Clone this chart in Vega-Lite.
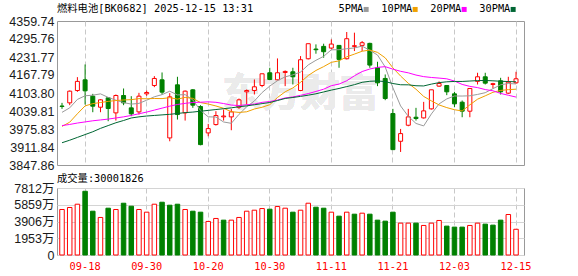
{
  "$schema": "https://vega.github.io/schema/vega-lite/v6.json",
  "background": "white",
  "padding": {"left": 6, "top": 3, "right": 0, "bottom": 0},
  "spacing": 1,
  "datasets": {
    "k": [
      {"d":"09-15","o":4057.5,"h":4068.8,"l":4047.4,"c":4056.0,"dir":"down","v":5306,"vd":"up","5PMA":4035,"10PMA":3985,"20PMA":3988,"30PMA":3927},
      {"d":"09-16","o":4068.8,"h":4112.7,"l":4060.5,"c":4110.3,"dir":"up","v":5538,"vd":"up","5PMA":4051,"10PMA":4000,"20PMA":3992,"30PMA":3936},
      {"d":"09-17","o":4112.7,"h":4160.2,"l":4108.0,"c":4145.1,"dir":"up","v":5921,"vd":"up","5PMA":4081,"10PMA":4030,"20PMA":3997,"30PMA":3946},
      {"d":"09-18","o":4150.7,"h":4205.3,"l":4062.8,"c":4111.5,"dir":"down","v":7430,"vd":"down","5PMA":4094,"10PMA":4058,"20PMA":4001,"30PMA":3956},
      {"d":"09-19","o":4092.5,"h":4100.8,"l":4035.5,"c":4056.9,"dir":"down","v":5108,"vd":"down","5PMA":4096.0,"10PMA":4066,"20PMA":4005,"30PMA":3966},
      {"d":"09-22","o":4053.3,"h":4081.8,"l":4035.5,"c":4079.5,"dir":"up","v":4377,"vd":"up","5PMA":4100.7,"10PMA":4070,"20PMA":4008,"30PMA":3978},
      {"d":"09-23","o":4086.6,"h":4089.0,"l":4003.5,"c":4048.6,"dir":"down","v":5457,"vd":"down","5PMA":4088.3,"10PMA":4074,"20PMA":4011,"30PMA":3988},
      {"d":"09-24","o":4033.1,"h":4098.5,"l":4005.8,"c":4094.9,"dir":"up","v":5306,"vd":"up","5PMA":4078.3,"10PMA":4077,"20PMA":4015,"30PMA":3998},
      {"d":"09-25","o":4094.9,"h":4119.8,"l":4060.5,"c":4068.8,"dir":"down","v":6037,"vd":"down","5PMA":4069.7,"10PMA":4079,"20PMA":4019,"30PMA":4006},
      {"d":"09-26","o":4051.0,"h":4092.5,"l":4021.3,"c":4029.6,"dir":"down","v":5689,"vd":"down","5PMA":4064.3,"10PMA":4080.1,"20PMA":4024,"30PMA":4015},
      {"d":"09-29","o":4036.7,"h":4104.4,"l":4027.2,"c":4092.5,"dir":"up","v":5306,"vd":"up","5PMA":4066.9,"10PMA":4083.8,"20PMA":4030,"30PMA":4019},
      {"d":"09-30","o":4100.8,"h":4112.7,"l":4093.7,"c":4105.6,"dir":"up","v":4992,"vd":"up","5PMA":4078.3,"10PMA":4083.3,"20PMA":4036,"30PMA":4022},
      {"d":"10-09","o":4130.5,"h":4163.8,"l":4124.6,"c":4155.5,"dir":"up","v":5921,"vd":"up","5PMA":4090.4,"10PMA":4084.3,"20PMA":4043,"30PMA":4024},
      {"d":"10-10","o":4150.7,"h":4176.8,"l":4098.5,"c":4106.8,"dir":"down","v":6153,"vd":"down","5PMA":4098.0,"10PMA":4083.9,"20PMA":4050,"30PMA":4026},
      {"d":"10-13","o":3944.1,"h":4103.2,"l":3932.2,"c":4090.1,"dir":"up","v":5805,"vd":"down","5PMA":4110.1,"10PMA":4087.2,"20PMA":4057,"30PMA":4028},
      {"d":"10-14","o":4132.9,"h":4161.4,"l":4009.4,"c":4027.2,"dir":"down","v":5921,"vd":"down","5PMA":4097.0,"10PMA":4082.0,"20PMA":4063,"30PMA":4031},
      {"d":"10-15","o":4033.1,"h":4112.7,"l":4005.8,"c":4110.3,"dir":"up","v":5306,"vd":"up","5PMA":4098.0,"10PMA":4088.1,"20PMA":4067,"30PMA":4034},
      {"d":"10-16","o":4115.1,"h":4117.5,"l":4051.0,"c":4060.5,"dir":"down","v":5108,"vd":"down","5PMA":4079.0,"10PMA":4084.7,"20PMA":4070,"30PMA":4036},
      {"d":"10-17","o":4055.7,"h":4060.5,"l":3917.9,"c":3920.3,"dir":"down","v":4992,"vd":"down","5PMA":4041.7,"10PMA":4069.8,"20PMA":4071,"30PMA":4039},
      {"d":"10-20","o":3961.9,"h":3993.9,"l":3950.0,"c":3977.3,"dir":"up","v":3912,"vd":"up","5PMA":4019.1,"10PMA":4064.6,"20PMA":4072.4,"30PMA":4042},
      {"d":"10-21","o":3991.6,"h":4039.1,"l":3988.0,"c":4023.6,"dir":"up","v":4261,"vd":"up","5PMA":4018.4,"10PMA":4057.7,"20PMA":4070.7,"30PMA":4045},
      {"d":"10-22","o":4019.0,"h":4045.0,"l":4005.8,"c":4022.0,"dir":"up","v":4064,"vd":"down","5PMA":4000.8,"10PMA":4049.4,"20PMA":4066.3,"30PMA":4048},
      {"d":"10-23","o":4018.9,"h":4047.4,"l":3971.4,"c":4036.7,"dir":"up","v":4064,"vd":"up","5PMA":3996.0,"10PMA":4037.5,"20PMA":4060.9,"30PMA":4051},
      {"d":"10-24","o":4053.3,"h":4084.2,"l":4047.4,"c":4079.5,"dir":"up","v":4377,"vd":"up","5PMA":4027.9,"10PMA":4034.8,"20PMA":4059.3,"30PMA":4055},
      {"d":"10-27","o":4108.0,"h":4116.3,"l":4062.8,"c":4112.7,"dir":"up","v":5108,"vd":"up","5PMA":4054.9,"10PMA":4037.0,"20PMA":4062.1,"30PMA":4058},
      {"d":"10-28","o":4112.7,"h":4151.9,"l":4098.5,"c":4125.8,"dir":"up","v":5224,"vd":"up","5PMA":4075.4,"10PMA":4046.9,"20PMA":4064.4,"30PMA":4062},
      {"d":"10-29","o":4130.5,"h":4172.1,"l":4124.6,"c":4172.1,"dir":"up","v":5418,"vd":"up","5PMA":4105.4,"10PMA":4053.1,"20PMA":4070.6,"30PMA":4066},
      {"d":"10-30","o":4175.7,"h":4193.5,"l":4149.5,"c":4151.9,"dir":"down","v":5340,"vd":"down","5PMA":4128.4,"10PMA":4062.2,"20PMA":4073.4,"30PMA":4070},
      {"d":"10-31","o":4150.7,"h":4226.7,"l":4148.3,"c":4175.7,"dir":"up","v":5650,"vd":"up","5PMA":4147.6,"10PMA":4087.8,"20PMA":4078.7,"30PMA":4077},
      {"d":"11-03","o":4176.8,"h":4184.0,"l":4128.2,"c":4180.4,"dir":"up","v":5457,"vd":"up","5PMA":4161.2,"10PMA":4108.1,"20PMA":4086.3,"30PMA":4084.4},
      {"d":"11-04","o":4179.2,"h":4193.5,"l":4134.1,"c":4161.4,"dir":"down","v":4992,"vd":"down","5PMA":4168.3,"10PMA":4121.8,"20PMA":4089.7,"30PMA":4087.9},
      {"d":"11-05","o":4112.7,"h":4235.0,"l":4110.3,"c":4222.0,"dir":"up","v":5224,"vd":"up","5PMA":4178.3,"10PMA":4141.8,"20PMA":4095.6,"30PMA":4091.7},
      {"d":"11-06","o":4225.5,"h":4279.0,"l":4223.2,"c":4279.0,"dir":"up","v":6037,"vd":"up","5PMA":4203.7,"10PMA":4166.1,"20PMA":4101.7,"30PMA":4096.1},
      {"d":"11-07","o":4260.0,"h":4276.6,"l":4243.4,"c":4257.6,"dir":"down","v":5573,"vd":"down","5PMA":4220.1,"10PMA":4183.9,"20PMA":4109.3,"30PMA":4101.0},
      {"d":"11-10","o":4269.5,"h":4279.0,"l":4229.1,"c":4250.5,"dir":"down","v":5457,"vd":"down","5PMA":4234.1,"10PMA":4197.6,"20PMA":4117.3,"30PMA":4107.5},
      {"d":"11-11","o":4263.5,"h":4294.4,"l":4258.8,"c":4277.8,"dir":"up","v":4992,"vd":"up","5PMA":4257.4,"10PMA":4212.8,"20PMA":4129.8,"30PMA":4114.1},
      {"d":"11-12","o":4273.0,"h":4273.0,"l":4193.5,"c":4223.2,"dir":"down","v":4528,"vd":"down","5PMA":4257.6,"10PMA":4218.0,"20PMA":4135.5,"30PMA":4119.9},
      {"d":"11-13","o":4225.5,"h":4320.6,"l":4223.2,"c":4296.8,"dir":"up","v":4992,"vd":"up","5PMA":4261.2,"10PMA":4232.4,"20PMA":4147.3,"30PMA":4126.6},
      {"d":"11-14","o":4269.5,"h":4318.2,"l":4252.9,"c":4271.9,"dir":"up","v":4760,"vd":"down","5PMA":4264.0,"10PMA":4242.1,"20PMA":4164.9,"30PMA":4133.4},
      {"d":"11-17","o":4273.0,"h":4288.5,"l":4252.9,"c":4282.5,"dir":"up","v":4876,"vd":"up","5PMA":4270.4,"10PMA":4252.3,"20PMA":4180.1,"30PMA":4141.8},
      {"d":"11-18","o":4280.2,"h":4282.5,"l":4193.5,"c":4203.0,"dir":"down","v":4760,"vd":"down","5PMA":4255.5,"10PMA":4256.4,"20PMA":4189.1,"30PMA":4145.5},
      {"d":"11-19","o":4193.5,"h":4214.8,"l":4128.2,"c":4140.0,"dir":"down","v":4064,"vd":"down","5PMA":4238.8,"10PMA":4248.2,"20PMA":4195.0,"30PMA":4146.6},
      {"d":"11-20","o":4155.5,"h":4169.7,"l":4078.3,"c":4084.2,"dir":"down","v":3948,"vd":"down","5PMA":4196.3,"10PMA":4228.8,"20PMA":4197.4,"30PMA":4144.3},
      {"d":"11-21","o":4030.8,"h":4047.4,"l":3902.5,"c":3902.5,"dir":"down","v":4992,"vd":"down","5PMA":4122.4,"10PMA":4193.2,"20PMA":4188.6,"30PMA":4137.5},
      {"d":"11-24","o":3932.2,"h":3976.1,"l":3894.2,"c":3959.5,"dir":"up","v":3715,"vd":"up","5PMA":4057.8,"10PMA":4164.1,"20PMA":4180.9,"30PMA":4133.1},
      {"d":"11-25","o":3989.2,"h":4047.4,"l":3985.6,"c":4018.9,"dir":"up","v":3715,"vd":"up","5PMA":4021.0,"10PMA":4138.3,"20PMA":4175.5,"30PMA":4132.8},
      {"d":"11-26","o":4017.7,"h":4051.0,"l":4005.8,"c":4013.0,"dir":"down","v":3715,"vd":"down","5PMA":3995.6,"10PMA":4117.2,"20PMA":4167.6,"30PMA":4129.6},
      {"d":"11-27","o":4015.3,"h":4072.3,"l":4013.0,"c":4040.3,"dir":"up","v":3444,"vd":"up","5PMA":3986.8,"10PMA":4091.6,"20PMA":4162.0,"30PMA":4128.9},
      {"d":"11-28","o":4047.4,"h":4115.1,"l":4045.0,"c":4115.1,"dir":"up","v":3715,"vd":"up","5PMA":4029.4,"10PMA":4075.9,"20PMA":4159.0,"30PMA":4135.4},
      {"d":"12-01","o":4128.2,"h":4145.1,"l":4125.8,"c":4137.6,"dir":"up","v":4025,"vd":"up","5PMA":4065.0,"10PMA":4061.4,"20PMA":4156.8,"30PMA":4140.7},
      {"d":"12-02","o":4130.5,"h":4131.7,"l":4096.1,"c":4108.0,"dir":"down","v":3367,"vd":"down","5PMA":4082.8,"10PMA":4051.9,"20PMA":4154.2,"30PMA":4143.6},
      {"d":"12-03","o":4100.8,"h":4108.0,"l":4053.3,"c":4065.2,"dir":"down","v":3251,"vd":"down","5PMA":4093.2,"10PMA":4044.4,"20PMA":4146.3,"30PMA":4144.8},
      {"d":"12-04","o":4071.1,"h":4077.1,"l":4017.7,"c":4039.1,"dir":"down","v":3251,"vd":"down","5PMA":4093.0,"10PMA":4039.9,"20PMA":4134.3,"30PMA":4144.9},
      {"d":"12-05","o":4039.1,"h":4119.8,"l":4017.7,"c":4119.8,"dir":"up","v":3444,"vd":"up","5PMA":4093.9,"10PMA":4061.7,"20PMA":4127.4,"30PMA":4146.3},
      {"d":"12-08","o":4145.1,"h":4175.7,"l":4134.1,"c":4161.4,"dir":"up","v":3715,"vd":"up","5PMA":4098.7,"10PMA":4081.8,"20PMA":4123.0,"30PMA":4147.9},
      {"d":"12-09","o":4161.4,"h":4175.7,"l":4134.1,"c":4138.8,"dir":"down","v":3599,"vd":"down","5PMA":4104.9,"10PMA":4093.8,"20PMA":4116.0,"30PMA":4148.3},
      {"d":"12-10","o":4134.1,"h":4140.0,"l":4119.8,"c":4137.0,"dir":"up","v":3483,"vd":"down","5PMA":4119.2,"10PMA":4106.2,"20PMA":4111.7,"30PMA":4147.1},
      {"d":"12-11","o":4147.2,"h":4157.8,"l":4098.5,"c":4108.0,"dir":"down","v":4064,"vd":"down","5PMA":4133.0,"10PMA":4113.0,"20PMA":4102.3,"30PMA":4145.6},
      {"d":"12-12","o":4103.2,"h":4161.4,"l":4100.8,"c":4142.4,"dir":"up","v":4721,"vd":"up","5PMA":4137.5,"10PMA":4115.7,"20PMA":4095.8,"30PMA":4144.5},
      {"d":"12-15","o":4140.0,"h":4179.2,"l":4136.5,"c":4154.3,"dir":"up","v":3000,"vd":"up","5PMA":4136.1,"10PMA":4117.4,"20PMA":4089.4,"30PMA":4143.7}
    ]
  },
  "vconcat": [
    {
      "width": 467,
      "height": 144,
      "title": {"text": "燃料电池[BK0682] 2025-12-15 13:31", "anchor": "start", "frame": "group", "baseline": "bottom", "offset": -9.3, "font": "DejaVu Sans Mono, Noto Sans CJK SC", "fontSize": 10.3, "fontWeight": "normal", "color": "#000000"},
      "data": {"name": "k"},
      "layer": [
        {
          "mark": {"type": "text", "text": "东方财富", "font": "Noto Sans CJK SC", "fontSize": 39, "fontWeight": "bold", "color": "#ebebeb", "align": "center", "baseline": "middle"},
          "encoding": {
            "x": {"datum": "11-05", "type": "ordinal", "bandPosition": 0.5},
            "y": {"datum": 4102, "type": "quantitative", "axis": {"values": [3847.86, 3911.84, 3975.83, 4039.81, 4103.80, 4167.79, 4231.77, 4295.76, 4359.74], "format": ".2f", "labelOverlap": false, "labelSeparation": 0, "tickCount": 9, "title": null, "ticks": false, "domain": false, "labelPadding": 3, "minExtent": 50, "maxExtent": 50, "labelFont": "Liberation Sans", "labelFontSize": 12.5, "labelColor": "#1a1a1a", "gridColor": "#d4d4d4"}}
          }
        },
        {
          "mark": {"type": "rule", "strokeWidth": 1},
          "encoding": {
            "x": {"field": "d", "type": "ordinal", "bandPosition": 0.5,
              "scale": {"domain": ["09-15","09-16","09-17","09-18","09-19","09-22","09-23","09-24","09-25","09-26","09-29","09-30","10-09","10-10","10-13","10-14","10-15","10-16","10-17","10-20","10-21","10-22","10-23","10-24","10-27","10-28","10-29","10-30","10-31","11-03","11-04","11-05","11-06","11-07","11-10","11-11","11-12","11-13","11-14","11-17","11-18","11-19","11-20","11-21","11-24","11-25","11-26","11-27","11-28","12-01","12-02","12-03","12-04","12-05","12-08","12-09","12-10","12-11","12-12","12-15"], "paddingInner": 0, "paddingOuter": 0.344, "align": 0.22},
              "axis": {"values": ["09-18","09-30","10-20","10-30","11-11","11-21","12-03","12-15"], "bandPosition": 0.5, "labels": false, "ticks": false, "domain": false, "grid": true, "gridDash": [5, 3], "gridColor": "#c8c8c8", "title": null, "minExtent": 0, "maxExtent": 0}},
            "y": {"field": "l", "type": "quantitative",
              "scale": {"domain": [3847.86, 4359.74], "nice": false, "zero": false},
              "axis": {"values": [3847.86, 3911.84, 3975.83, 4039.81, 4103.80, 4167.79, 4231.77, 4295.76, 4359.74], "format": ".2f", "labelOverlap": false, "labelSeparation": 0, "tickCount": 9, "title": null, "ticks": false, "domain": false, "labelPadding": 3, "minExtent": 50, "maxExtent": 50, "labelFont": "Liberation Sans", "labelFontSize": 12.5, "labelColor": "#1a1a1a", "gridColor": "#d4d4d4"}},
            "y2": {"field": "h"},
            "stroke": {"field": "dir", "type": "nominal", "scale": {"domain": ["up", "down"], "range": ["#ff0000", "#008000"]}, "legend": null}
          }
        },
        {
          "mark": {"type": "bar", "size": 4, "strokeWidth": 1},
          "encoding": {
            "x": {"field": "d", "type": "ordinal"},
            "y": {"field": "o", "type": "quantitative", "axis": {"values": [3847.86, 3911.84, 3975.83, 4039.81, 4103.80, 4167.79, 4231.77, 4295.76, 4359.74], "format": ".2f", "labelOverlap": false, "labelSeparation": 0, "tickCount": 9, "title": null, "ticks": false, "domain": false, "labelPadding": 3, "minExtent": 50, "maxExtent": 50, "labelFont": "Liberation Sans", "labelFontSize": 12.5, "labelColor": "#1a1a1a", "gridColor": "#d4d4d4"}},
            "y2": {"field": "c"},
            "fill": {"field": "dir", "type": "nominal", "scale": {"domain": ["up", "down"], "range": ["#ffffff", "#008000"]}, "legend": null},
            "stroke": {"field": "dir", "type": "nominal", "legend": null}
          }
        },
        {
          "transform": [{"fold": ["5PMA", "10PMA", "20PMA", "30PMA"], "as": ["s", "val"]}],
          "mark": {"type": "line", "strokeWidth": 1},
          "encoding": {
            "x": {"field": "d", "type": "ordinal", "bandPosition": 0.5},
            "y": {"field": "val", "type": "quantitative", "axis": {"values": [3847.86, 3911.84, 3975.83, 4039.81, 4103.80, 4167.79, 4231.77, 4295.76, 4359.74], "format": ".2f", "labelOverlap": false, "labelSeparation": 0, "tickCount": 9, "title": null, "ticks": false, "domain": false, "labelPadding": 3, "minExtent": 50, "maxExtent": 50, "labelFont": "Liberation Sans", "labelFontSize": 12.5, "labelColor": "#1a1a1a", "gridColor": "#d4d4d4"}},
            "color": {"field": "s", "type": "nominal",
              "scale": {"domain": ["5PMA", "10PMA", "20PMA", "30PMA"], "range": ["#9a9a9a", "#f0a000", "#ff00ff", "#006633"]},
              "legend": {"title": null, "orient": "none", "legendX": 304, "legendY": -17, "direction": "horizontal", "padding": 0, "symbolType": "square", "symbolSize": 6.25, "symbolStrokeWidth": 2.5, "labelAlign": "right", "labelOffset": -8, "columnPadding": 8, "labelFont": "DejaVu Sans Mono", "labelFontSize": 10.3, "labelColor": "#000000"}}
          }
        }
      ]
    },
    {
      "width": 467,
      "height": 67,
      "title": {"text": "成交量:30001826", "anchor": "start", "frame": "group", "baseline": "bottom", "offset": -12.2, "font": "DejaVu Sans Mono, Noto Sans CJK SC", "fontSize": 10.3, "fontWeight": "normal", "color": "#000000"},
      "data": {"name": "k"},
      "mark": {"type": "bar", "size": 4.5, "strokeWidth": 1},
      "encoding": {
        "x": {"field": "d", "type": "ordinal", "bandPosition": 0.5,
          "scale": {"domain": ["09-15","09-16","09-17","09-18","09-19","09-22","09-23","09-24","09-25","09-26","09-29","09-30","10-09","10-10","10-13","10-14","10-15","10-16","10-17","10-20","10-21","10-22","10-23","10-24","10-27","10-28","10-29","10-30","10-31","11-03","11-04","11-05","11-06","11-07","11-10","11-11","11-12","11-13","11-14","11-17","11-18","11-19","11-20","11-21","11-24","11-25","11-26","11-27","11-28","12-01","12-02","12-03","12-04","12-05","12-08","12-09","12-10","12-11","12-12","12-15"], "paddingInner": 0, "paddingOuter": 0.344, "align": 0.22},
          "axis": {"values": ["09-18","09-30","10-20","10-30","11-11","11-21","12-03","12-15"], "bandPosition": 0.5, "labelAngle": 0, "labelFlush": false, "labelOverlap": false, "ticks": false, "domain": false, "grid": true, "gridDash": [5, 3], "gridColor": "#c8c8c8", "title": null, "labelPadding": 6, "labelFont": "DejaVu Sans Mono", "labelFontSize": 10.3, "labelColor": "#ff0000"}},
        "y": {"field": "v", "type": "quantitative",
          "scale": {"domain": [0, 7812], "nice": false},
          "axis": {"values": [0, 1953, 3906, 5859, 7812], "labelExpr": "datum.value === 0 ? '0' : datum.value + '万'", "labelOverlap": false, "title": null, "ticks": false, "domain": false, "labelPadding": 3, "minExtent": 50, "maxExtent": 50, "labelFont": "Liberation Sans, Noto Sans CJK SC", "labelFontSize": 12.5, "labelColor": "#1a1a1a", "gridColor": "#d4d4d4"}},
        "fill": {"field": "vd", "type": "nominal", "scale": {"domain": ["up", "down"], "range": ["#ffffff", "#008000"]}, "legend": null},
        "stroke": {"field": "vd", "type": "nominal", "scale": {"domain": ["up", "down"], "range": ["#ff0000", "#008000"]}, "legend": null}
      }
    }
  ],
  "config": {
    "view": {"stroke": "#999999", "strokeWidth": 1},
    "axis": {"domain": false, "ticks": false, "labelOverlap": false}
  }
}
